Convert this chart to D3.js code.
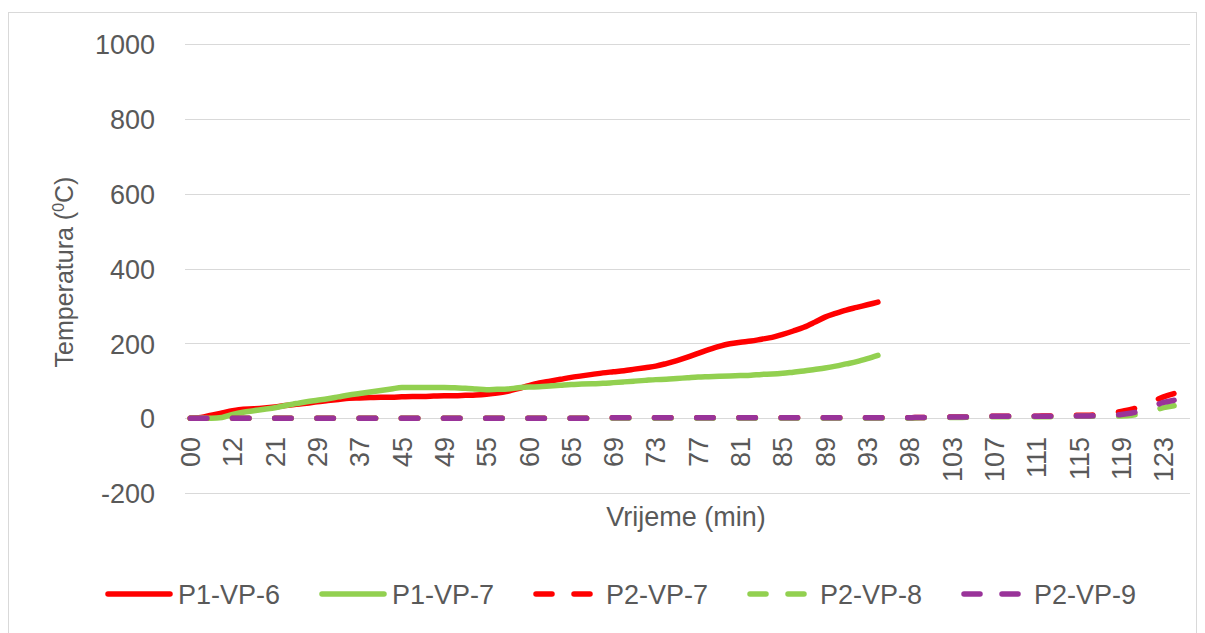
<!DOCTYPE html>
<html>
<head>
<meta charset="utf-8">
<script src="https://cdn.jsdelivr.net/npm/d3@7"></script>
<style>
  html, body { margin: 0; padding: 0; background: #fff; }
  svg { display: block; }
  text { font-family: "Liberation Sans", Arial, sans-serif; fill: #595959; }
</style>
</head>
<body>
<svg id="chart" width="1205" height="633"></svg>
<script>
// ---- data ----
const times = ["00","03","06","09","12","14","16","19","21","23","25","27","29","31","33","35","37","39","41","43",
  "45","46","47","48","49","50","52","53","55","56","57","59","60","61","62","64","65","66","67","68",
  "69","70","71","72","73","74","75","76","77","78","79","80","81","82","83","84","85","86","87","88",
  "89","90","91","92","93","94","95","97","98","99","100","102","103","104","105","106","107","108","109","110",
  "111","112","113","114","115","116","117","118","119","120","121","122","123","124","125"];

const p1vp6 = [0,2,8,14,20,24,25,27,30,34,37,40,44,47,50,53,54,55,56,56,
  57,58,58,59,60,60,61,62,64,67,72,79,87,94,99,104,109,113,117,121,
  124,127,131,135,139,146,154,163,173,183,192,199,203,206,211,216,224,233,243,256,
  270,280,289,296,303,310];

const p1vp7 = [0,0,0,2,10,16,20,24,28,34,39,44,48,52,57,62,66,70,74,78,
  82,82,82,82,82,81,80,78,76,77,78,81,83,84,86,88,90,91,92,93,
  95,97,99,101,103,104,106,108,110,111,112,113,114,115,117,118,120,123,126,130,
  134,139,145,151,159,168];

const p2vp7 = [0,0,0,0,0,0,0,0,0,0,0,0,0,0,0,0,0,0,0,0,
  0,0,0,0,0,0,0,0,0,0,0,0,0,0,0,0,0,0,0,0,
  1,1,1,1,1,1,1,1,1,1,1,1,1,1,1,1,1,1,1,1,
  1,1,1,1,1,1,1,1,1,2,2,2,3,3,4,4,5,5,5,5,
  5,6,6,7,8,8,10,13,18,24,32,45,57,66];

const p2vp8 = [0,0,0,0,0,0,0,0,0,0,0,0,0,0,0,0,0,0,0,0,
  0,0,0,0,0,0,0,0,0,0,0,0,0,0,0,0,0,0,0,0,
  0,0,0,0,0,0,0,0,0,0,0,0,0,0,0,0,0,0,0,0,
  0,0,0,0,0,0,0,0,0,1,1,1,2,2,3,3,4,4,4,4,
  4,4,4,5,5,5,5,5,6,8,12,20,28,33];

const p2vp9 = [0,0,0,0,0,0,0,0,0,0,0,0,0,0,0,0,0,0,0,0,
  0,0,0,0,0,0,0,0,0,0,0,0,0,0,0,0,0,0,0,0,
  1,1,1,1,1,1,1,1,1,1,1,1,1,1,1,1,1,1,1,1,
  1,1,1,1,1,1,1,1,1,2,2,2,3,3,4,4,5,5,5,5,
  5,5,5,6,6,6,7,8,10,14,20,32,42,48];

const seriesNames = ["P1-VP-6","P1-VP-7","P2-VP-7","P2-VP-8","P2-VP-9"];
const seriesColors = ["#ff0000","#92d050","#ff0000","#92d050","#993399"];
const seriesDashed = [false,false,true,true,true];
const yTicks = [-200,0,200,400,600,800,1000];
const yTitle = "Temperatura (";
const yTitleSup = "0";
const yTitleEnd = "C)";
const xTitle = "Vrijeme (min)";

// ---- layout ----
const svg = d3.select("#chart");
const plotL = 185, plotR = 1190, plotT = 44, plotB = 493;
const fontSize = 27;
const lineW = 5.5;
const dash = "16.5,25.7";

// chart border
svg.append("rect").attr("x", 8.5).attr("y", 12.5).attr("width", 1188).attr("height", 640)
  .attr("fill", "none").attr("stroke", "#d9d9d9").attr("stroke-width", 1);

const x = d3.scaleBand().domain(times).range([plotL, plotR]).padding(0);
const y = d3.scaleLinear().domain([-200, 1000]).range([plotB, plotT]);
const cx = i => x(times[i]) + x.bandwidth() / 2;

// gridlines
svg.append("g").selectAll("line").data(yTicks).join("line")
  .attr("x1", plotL).attr("x2", plotR)
  .attr("y1", d => Math.round(y(d)) + 0.5).attr("y2", d => Math.round(y(d)) + 0.5)
  .attr("stroke", "#d9d9d9").attr("stroke-width", 1);

// y axis
const yAxis = d3.axisLeft(y).tickValues(yTicks).tickSize(0).tickPadding(0).tickFormat(d => String(d));
const gy = svg.append("g").attr("transform", "translate(155,0)").call(yAxis);
gy.select(".domain").remove();
gy.selectAll("text").attr("font-size", fontSize).attr("fill", "#595959")
  .attr("font-family", "Liberation Sans, Arial, sans-serif").attr("dy", "0.36em").attr("x", 0);

// x axis
const shown = times.filter((t, i) => i % 4 === 0);
const xAxis = d3.axisBottom(x).tickValues(shown).tickSize(0).tickPadding(0);
const gx = svg.append("g").attr("transform", "translate(0," + 437 + ")").call(xAxis);
gx.select(".domain").remove();
gx.selectAll("text").attr("font-size", fontSize).attr("fill", "#595959")
  .attr("font-family", "Liberation Sans, Arial, sans-serif")
  .attr("text-anchor", "end").attr("y", 0).attr("dy", "0.36em").attr("x", 0)
  .attr("transform", "rotate(-90)");

// lines
const allSeries = [p1vp6, p1vp7, p2vp7, p2vp8, p2vp9];
const line = d3.line().x((d, i) => cx(i)).y(d => y(d)).curve(d3.curveMonotoneX);
allSeries.forEach((s, k) => {
  svg.append("path").datum(s).attr("d", line)
    .attr("fill", "none").attr("stroke", seriesColors[k]).attr("stroke-width", lineW)
    .attr("stroke-linejoin", "round").attr("stroke-linecap", "round")
    .attr("stroke-dasharray", seriesDashed[k] ? dash : null);
});

// y title
const yt = svg.append("text").attr("transform", "translate(64,272) rotate(-90)")
  .attr("text-anchor", "middle").attr("dy", "0.36em").attr("font-size", 25);
yt.append("tspan").text(yTitle);
yt.append("tspan").text(yTitleSup).attr("font-size", 16).attr("dy", "-0.55em");
yt.append("tspan").text(yTitleEnd).attr("dy", "0.35em");

// x title
svg.append("text").attr("x", 686).attr("y", 526).attr("text-anchor", "middle")
  .attr("font-size", fontSize).text(xTitle);

// legend
const legX0 = 178, legStep = 214, legY = 594;
seriesNames.forEach((n, k) => {
  const tx = legX0 + k * legStep;
  svg.append("line").attr("x1", tx - 70).attr("x2", tx - 8).attr("y1", legY).attr("y2", legY)
    .attr("stroke", seriesColors[k]).attr("stroke-width", lineW).attr("stroke-linecap", "round")
    .attr("stroke-dasharray", seriesDashed[k] ? "16,22" : null);
  svg.append("text").attr("x", tx).attr("y", legY).attr("dy", "0.36em")
    .attr("font-size", fontSize).text(n);
});
</script>
</body>
</html>
